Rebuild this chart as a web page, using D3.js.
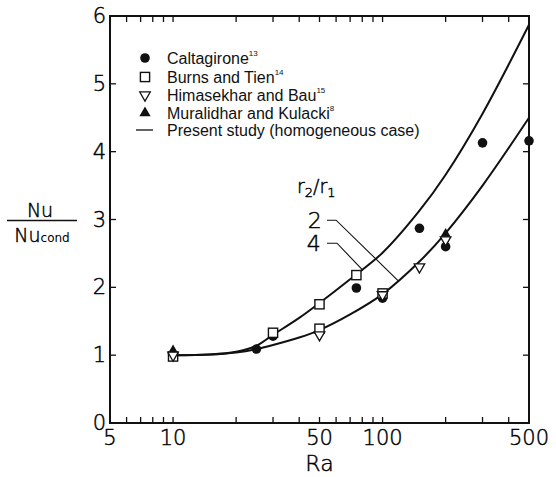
<!DOCTYPE html>
<html>
<head>
<meta charset="utf-8">
<script src="https://cdn.jsdelivr.net/npm/d3@7/dist/d3.min.js"></script>
<style>
	body { margin: 0; background: #fff; }
	svg { display: block; }
	.thin { font-family: "DejaVu Sans", sans-serif; font-weight: 200; fill: #000; stroke: #000; stroke-width: 0.45px; }
	.legend-text { font-family: "Liberation Sans", Arial, sans-serif; font-size: 16px; fill: #111; }
</style>
</head>
<body>
<svg id="chart"></svg>
<script>
// x ticks (log scale), y ticks
var xLabels = [5, 10, 50, 100, 500];
var xMinor = [6, 7, 8, 9, 20, 30, 40, 60, 70, 80, 90, 200, 300, 400];
var yTicks = [0, 1, 2, 3, 4, 5, 6];

// present study curves, r2/r1 = 4 (upper) and r2/r1 = 2 (lower)
var curveRa = [10, 15, 20, 25, 30, 40, 50, 70, 100, 150, 200, 300, 500];
var curve4 = [1.0, 1.01, 1.05, 1.14, 1.3, 1.55, 1.77, 2.12, 2.51, 3.13, 3.66, 4.56, 5.87];
var curve2 = [1.0, 1.01, 1.04, 1.09, 1.15, 1.26, 1.37, 1.6, 1.9, 2.38, 2.8, 3.5, 4.5];

// data points [Ra, Nu/Nucond]
var caltagirone = [[10, 1.0], [25, 1.09], [30, 1.28], [50, 1.35], [75, 1.99], [100, 1.84], [150, 2.87], [200, 2.6], [300, 4.13], [500, 4.16]];
var burnsTien = [[10, 0.98], [30, 1.33], [50, 1.75], [50, 1.39], [75, 2.18], [100, 1.91]];
var himasekhar = [[10, 1.0], [50, 1.3], [100, 1.89], [150, 2.3], [200, 2.7]];
var muralidhar = [[10, 1.06], [200, 2.78]];

var legendNames = ["Caltagirone", "Burns and Tien", "Himasekhar and Bau", "Muralidhar and Kulacki", "Present study (homogeneous case)"];
var legendRefs = ["13", "14", "15", "8", ""];

var svg = d3.select("#chart").attr("width", 556).attr("height", 477);
var margin = {top: 16, right: 27, bottom: 54, left: 110};
var width = 556 - margin.left - margin.right,
	height = 477 - margin.top - margin.bottom;

var x = d3.scaleLog().domain([5, 500]).range([margin.left, margin.left + width]);
var y = d3.scaleLinear().domain([0, 6]).range([margin.top + height, margin.top]);

var g = svg.append("g");

// frame
g.append("rect")
	.attr("x", margin.left).attr("y", margin.top)
	.attr("width", width).attr("height", height)
	.style("fill", "none").style("stroke", "#111").style("stroke-width", 2);

// inner ticks on all four sides
var allX = xLabels.concat(xMinor).filter(function(v) { return v > 5 && v < 500; });
allX.forEach(function(v) {
	g.append("line").attr("x1", x(v)).attr("x2", x(v))
		.attr("y1", y(0)).attr("y2", y(0) - 6)
		.style("stroke", "#111").style("stroke-width", 1.3);
	g.append("line").attr("x1", x(v)).attr("x2", x(v))
		.attr("y1", y(6)).attr("y2", y(6) + 6)
		.style("stroke", "#111").style("stroke-width", 1.3);
});
yTicks.filter(function(v) { return v > 0 && v < 6; }).forEach(function(v) {
	g.append("line").attr("x1", x(5)).attr("x2", x(5) + 6)
		.attr("y1", y(v)).attr("y2", y(v))
		.style("stroke", "#111").style("stroke-width", 1.3);
	g.append("line").attr("x1", x(500)).attr("x2", x(500) - 6)
		.attr("y1", y(v)).attr("y2", y(v))
		.style("stroke", "#111").style("stroke-width", 1.3);
});

// tick labels
xLabels.forEach(function(v) {
	g.append("text").attr("class", "thin").style("font-size", "21px")
		.attr("x", x(v)).attr("y", y(0) + 22)
		.attr("text-anchor", "middle")
		.text(v);
});
yTicks.forEach(function(v) {
	g.append("text").attr("class", "thin").style("font-size", "21px")
		.attr("x", x(5) - 4).attr("y", y(v) + 7)
		.attr("text-anchor", "end")
		.text(v);
});

// axis titles
g.append("text").attr("class", "thin")
	.attr("x", x(50)).attr("y", y(0) + 48)
	.attr("text-anchor", "middle").style("font-size", "22px")
	.text("Ra");
var yl = g.append("g").attr("transform", "translate(42," + (y(3) + 1) + ")");
yl.append("text").attr("class", "thin")
	.attr("x", -2).attr("y", -4).attr("text-anchor", "middle").style("font-size", "19px")
	.text("Nu");
yl.append("line").attr("x1", -35).attr("x2", 35).attr("y1", 0).attr("y2", 0)
	.style("stroke", "#111").style("stroke-width", 1.4);
var nc = yl.append("text").attr("class", "thin")
	.attr("x", 0).attr("y", 21).attr("text-anchor", "middle").style("font-size", "19px");
nc.append("tspan").text("Nu");
nc.append("tspan").style("font-size", "12px").style("font-weight", 400).style("stroke-width", 0).text("cond");

// curves
var line = d3.line()
	.x(function(d) { return x(d[0]); })
	.y(function(d) { return y(d[1]); })
	.curve(d3.curveCatmullRom.alpha(0.5));
[curve4, curve2].forEach(function(c) {
	g.append("path")
		.attr("d", line(curveRa.map(function(r, i) { return [r, c[i]]; })))
		.style("fill", "none").style("stroke", "#111").style("stroke-width", 2);
});

// symbols
function drawCircle(sel, cx, cy) {
	sel.append("circle").attr("cx", cx).attr("cy", cy).attr("r", 4.8).style("fill", "#111");
}
function drawSquare(sel, cx, cy) {
	sel.append("rect").attr("x", cx - 4.6).attr("y", cy - 4.6).attr("width", 9.2).attr("height", 9.2)
		.style("fill", "#fff").style("stroke", "#111").style("stroke-width", 1.4);
}
function drawTriDown(sel, cx, cy) {
	sel.append("path").attr("d", d3.symbol().type(d3.symbolTriangle).size(48)())
		.attr("transform", "translate(" + cx + "," + cy + ") rotate(180)")
		.style("fill", "#fff").style("stroke", "#111").style("stroke-width", 1.3);
}
function drawTriUp(sel, cx, cy) {
	sel.append("path").attr("d", d3.symbol().type(d3.symbolTriangle).size(55)())
		.attr("transform", "translate(" + cx + "," + cy + ")")
		.style("fill", "#111");
}

var pts = g.append("g");
muralidhar.forEach(function(d) { drawTriUp(pts, x(d[0]), y(d[1])); });
caltagirone.forEach(function(d) { drawCircle(pts, x(d[0]), y(d[1])); });
burnsTien.forEach(function(d) { drawSquare(pts, x(d[0]), y(d[1])); });
himasekhar.forEach(function(d) { drawTriDown(pts, x(d[0]), y(d[1])); });

// legend
var legend = g.append("g").attr("transform", "translate(145,58)");
var drawers = [drawCircle, drawSquare, drawTriDown, drawTriUp, null];
var rowY = [0, 19, 37, 55, 72];
legendNames.forEach(function(name, i) {
	var ly = rowY[i];
	if (drawers[i]) {
		drawers[i](legend, 0, ly);
	} else {
		legend.append("line").attr("x1", -9).attr("x2", 8).attr("y1", ly).attr("y2", ly)
			.style("stroke", "#111").style("stroke-width", 1.3);
	}
	var t = legend.append("text").attr("class", "legend-text")
		.attr("x", 22).attr("y", ly + 6).text(name);
	if (legendRefs[i]) {
		t.append("tspan").attr("dy", -8).style("font-size", "8px").text(legendRefs[i]);
	}
});

// r2/r1 annotation with leader lines
var ann = g.append("text").attr("class", "thin")
	.attr("x", 297).attr("y", 193).style("font-size", "19px");
ann.append("tspan").text("r");
ann.append("tspan").attr("dy", 4).style("font-size", "13px").text("2");
ann.append("tspan").attr("dy", -4).text("/r");
ann.append("tspan").attr("dy", 4).style("font-size", "13px").text("1");

var leaders = [
	{label: "2", at: [47.5, 2.99], start: 54.3, knee: [60, 2.99], end: [118.5, 2.1]},
	{label: "4", at: [47, 2.65], start: 54.3, knee: [60.6, 2.65], end: [80.6, 2.25]}
];
leaders.forEach(function(l) {
	g.append("text").attr("class", "thin")
		.attr("x", x(l.at[0])).attr("y", y(l.at[1]) + 8)
		.attr("text-anchor", "middle").style("font-size", "22px")
		.text(l.label);
	g.append("path")
		.attr("d", d3.line()([[x(l.start), y(l.knee[1])], [x(l.knee[0]), y(l.knee[1])], [x(l.end[0]), y(l.end[1])]]))
		.style("fill", "none").style("stroke", "#111").style("stroke-width", 1.1);
});
</script>
</body>
</html>
